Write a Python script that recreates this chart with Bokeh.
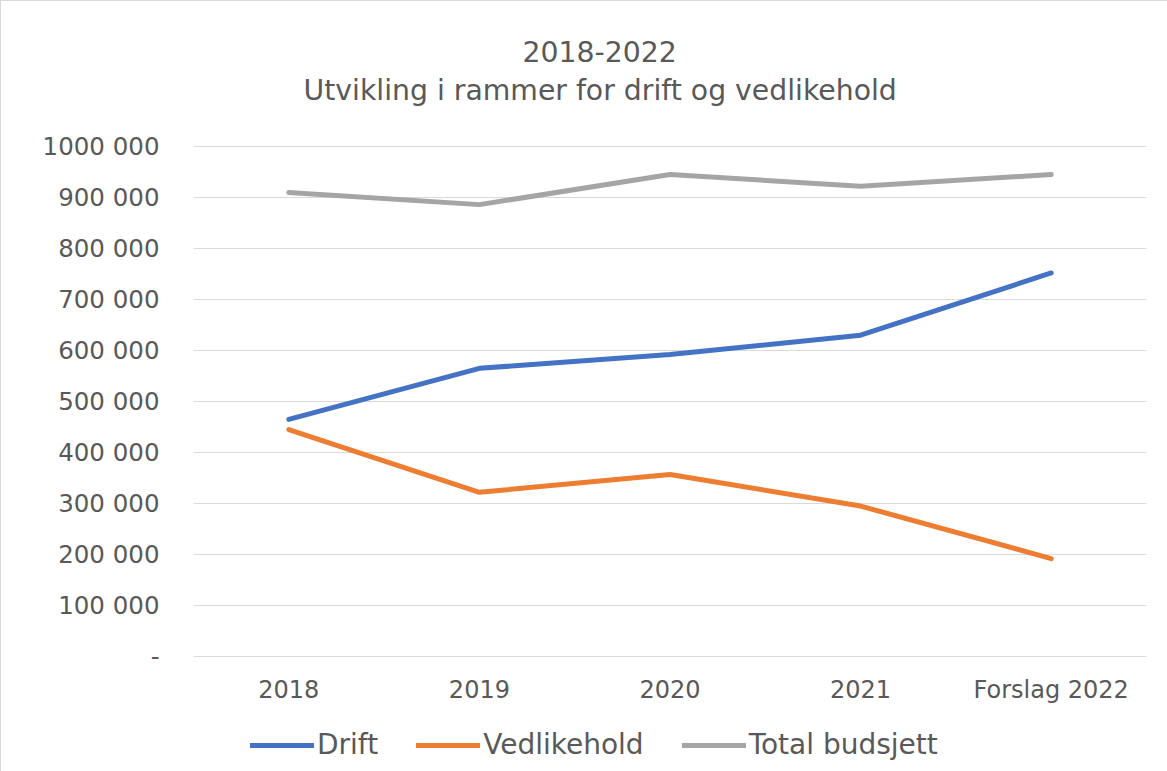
from bokeh.plotting import figure
from bokeh.models import FixedTicker, Legend, LegendItem, Title
from bokeh.embed import file_html
from bokeh.resources import INLINE

# ---- data ----
categories = ["2018", "2019", "2020", "2021", "Forslag 2022"]
drift = [465000, 565000, 592000, 630000, 752000]
vedlikehold = [445000, 322000, 357000, 295000, 192000]
total_budsjett = [910000, 886000, 945000, 922000, 945000]
y_ticks = [0, 100000, 200000, 300000, 400000, 500000, 600000, 700000, 800000, 900000, 1000000]
y_tick_labels = ["-", "100 000", "200 000", "300 000", "400 000", "500 000",
                 "600 000", "700 000", "800 000", "900 000", "1000 000"]
title_line1 = "2018-2022"
title_line2 = "Utvikling i rammer for drift og vedlikehold"
series_names = ["Drift", "Vedlikehold", "Total budsjett"]
series_colors = ["#4472C4", "#ED7D31", "#A5A5A5"]

FONT = "DejaVu Sans"
TXT = "#595959"

# frame covers the legend area too; the value axis runs 0..1 000 000 inside it
p = figure(x_range=categories, y_range=(-227450, 1068600), width=1167, height=771,
           output_backend="svg", toolbar_location=None,
           min_border_left=192, min_border_right=22, min_border_top=110, min_border_bottom=0)
p.title = None
p.styles = {"border-top": "1px solid #d9d9d9", "border-left": "1px solid #d9d9d9"}
p.outline_line_color = None
p.background_fill_color = "white"
p.border_fill_color = "white"

p.xgrid.grid_line_color = None
p.ygrid.grid_line_color = "#d9d9d9"
p.ygrid.grid_line_width = 1

p.yaxis.ticker = FixedTicker(ticks=y_ticks)
p.yaxis.major_label_overrides = {t: l for t, l in zip(y_ticks, y_tick_labels)}
for ax in (p.xaxis[0], p.yaxis[0]):
    ax.axis_line_color = None
    ax.major_tick_line_color = None
    ax.minor_tick_line_color = None
    ax.major_tick_out = 0
    ax.major_tick_in = 0
    ax.major_label_text_font = FONT
    ax.major_label_text_color = TXT
    ax.major_label_text_font_size = "24px"
p.yaxis.major_label_text_font_size = "24.5px"
p.yaxis.major_label_standoff = 34
p.xaxis.major_label_standoff = 20
p.xaxis.fixed_location = 0

renderers = []
for vals, color in zip([drift, vedlikehold, total_budsjett], series_colors):
    r = p.line(categories, vals, line_color=color, line_width=5, line_cap="round", line_join="round")
    renderers.append(r)

legend = Legend(items=[LegendItem(label=n, renderers=[r]) for n, r in zip(series_names, renderers)],
                orientation="horizontal", location=(57, 11),
                label_text_font=FONT, label_text_font_size="28px", label_text_color=TXT,
                glyph_width=64, glyph_height=30, label_height=30, label_standoff=3,
                spacing=38, padding=0, margin=0,
                border_line_color=None, background_fill_alpha=0)
p.add_layout(legend, "center")

p.add_layout(Title(text=title_line2, align="left", offset=110, standoff=9,
                   text_font=FONT, text_font_size="28.3px", text_color=TXT,
                   text_font_style="normal"), "above")
p.add_layout(Title(text=title_line1, align="left", offset=329, standoff=12,
                   text_font=FONT, text_font_size="28.3px", text_color=TXT,
                   text_font_style="normal"), "above")

open("out.html", "w").write(file_html(p, INLINE))
